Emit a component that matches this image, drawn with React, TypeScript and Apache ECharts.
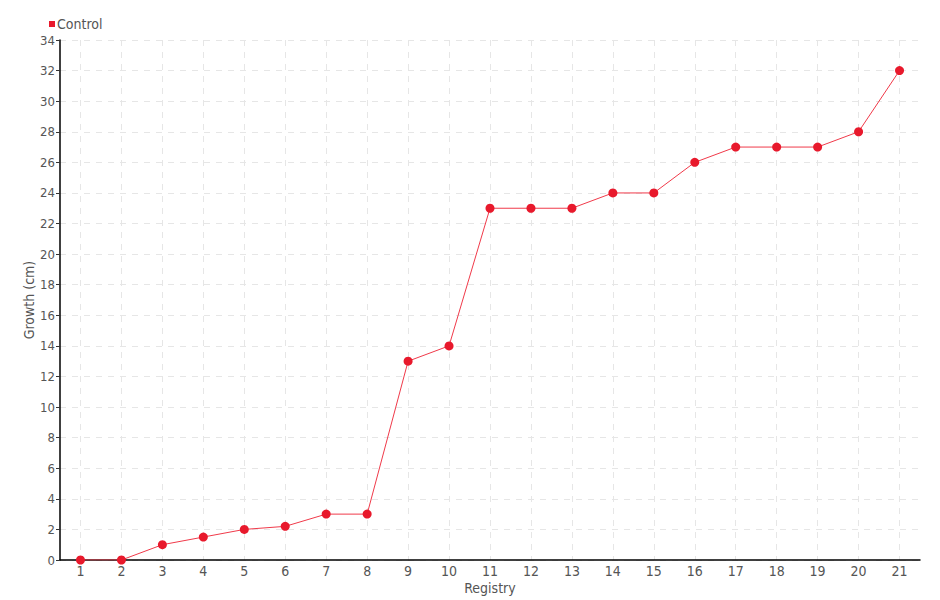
import React, { useEffect, useRef } from "react";
import * as echarts from "echarts";

const categories = ["1","2","3","4","5","6","7","8","9","10","11","12","13","14","15","16","17","18","19","20","21"];
const controlValues = [0, 0, 1, 1.5, 2, 2.2, 3, 3, 13, 14, 23, 23, 23, 24, 24, 26, 27, 27, 27, 28, 32];
const seriesName = "Control";

const FONT = "'DejaVu Sans Condensed', sans-serif";

export default function App() {
  const ref = useRef<HTMLDivElement>(null);
  useEffect(() => {
    if (!ref.current) return;
    const chart = echarts.init(ref.current, undefined, { renderer: "svg" });
    chart.setOption({
      animation: false,
      textStyle: { fontFamily: FONT },
      legend: {
        left: 44,
        top: 12,
        itemWidth: 6,
        itemHeight: 6,
        itemGap: 4,
        icon: "rect",
        textStyle: { fontSize: 14, color: "#555", fontFamily: FONT, padding: [0, 0, 0, -3] },
        data: [seriesName],
      },
      grid: { left: 60, right: 20, top: 40, bottom: 40, containLabel: false },
      xAxis: {
        type: "category",
        data: categories,
        boundaryGap: true,
        name: "Registry",
        nameLocation: "middle",
        nameGap: 21,
        nameMoveOverlap: false,
        nameTextStyle: { fontSize: 14, color: "#555", fontFamily: FONT },
        axisLine: { lineStyle: { color: "#000", width: 1.5 } },
        axisTick: { alignWithLabel: true, length: 4, inside: false, lineStyle: { color: "#333" } },
        axisLabel: { fontSize: 14, color: "#555", margin: 4, fontFamily: FONT },
        splitLine: { show: true, alignWithLabel: true, lineStyle: { color: "#e6e6e6", type: [6, 6] } },
      },
      yAxis: {
        type: "value",
        min: 0,
        max: 34,
        interval: 2,
        name: "Growth (cm)",
        nameLocation: "middle",
        nameGap: 24,
        nameMoveOverlap: false,
        nameTextStyle: { fontSize: 14, color: "#555", fontFamily: FONT },
        axisLine: { show: true, lineStyle: { color: "#000", width: 1.5 } },
        axisTick: { show: true, length: 4, lineStyle: { color: "#333" } },
        axisLabel: { fontSize: 13, color: "#555", margin: 5, fontFamily: FONT },
        splitLine: { show: true, lineStyle: { color: "#e6e6e6", type: [6, 6] } },
      },
      series: [
        {
          name: seriesName,
          type: "line",
          data: controlValues,
          symbol: "circle",
          symbolSize: 9,
          itemStyle: { color: "#e8192c" },
          lineStyle: { color: "#f03a4a", width: 1 },
        },
      ],
    });
    return () => chart.dispose();
  }, []);
  return <div ref={ref} style={{ width: 940, height: 600, position: "absolute", left: 0, top: 0 }} />;
}
